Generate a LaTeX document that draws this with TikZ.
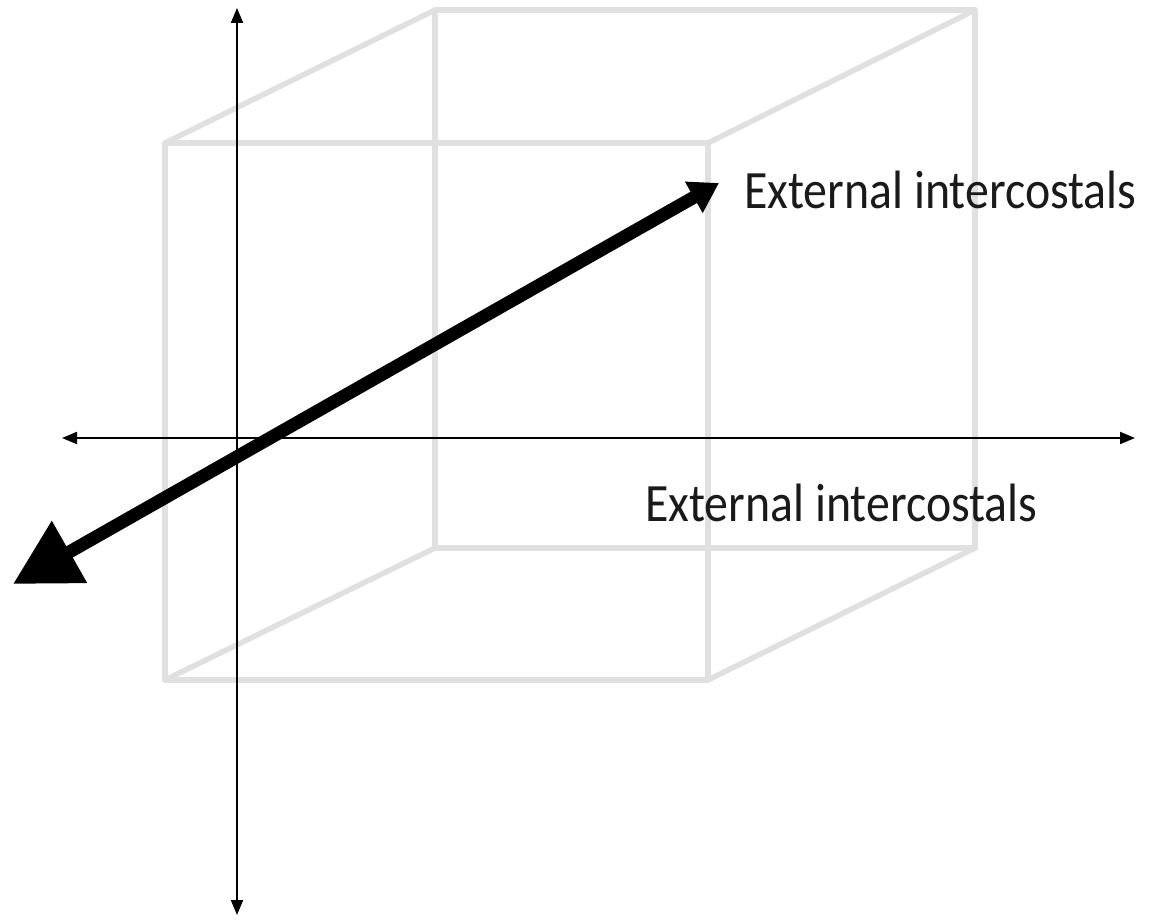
\documentclass[tikz,border=0pt]{standalone}
\usepackage{fontspec}
\setmainfont{Carlito}
\usepackage{graphicx}
\usepackage{tikz}
\usetikzlibrary{arrows.meta}

\tikzset{
  cubeline/.style={line width=5.5pt, color=cubegray, line join=round, line cap=round},
  axis/.style={line width=2pt, {Triangle[length=15pt,width=12pt]}-{Triangle[length=15pt,width=12pt]}},
  label/.style={anchor=base west, inner sep=0pt, text=textgray, font=\fontsize{54}{60}\selectfont}
}
\definecolor{cubegray}{HTML}{E0E0E0}
\definecolor{textgray}{HTML}{1A1A1A}
\newcommand{\narrow}[1]{\scalebox{0.886}[1]{#1}}

\begin{document}
\begin{tikzpicture}[x=1pt,y=-1pt]
\useasboundingbox (0,0) rectangle (1151,920);
% front face
\coordinate (F1) at (165,143);
\coordinate (F2) at (708,143);
\coordinate (F3) at (708,680);
\coordinate (F4) at (165,680);
% back face
\coordinate (B1) at (435,10);
\coordinate (B2) at (975,10);
\coordinate (B3) at (975,548);
\coordinate (B4) at (435,548);
\draw[cubeline] (B1) -- (B2) -- (B3) -- (B4) -- cycle;
\draw[cubeline] (F1) -- (F2) -- (F3) -- (F4) -- cycle;
\draw[cubeline] (F1) -- (B1);
\draw[cubeline] (F2) -- (B2);
\draw[cubeline] (F3) -- (B3);
\draw[cubeline] (F4) -- (B4);
% thick arrow
\coordinate (P) at (719,183);
\coordinate (Q) at (13,584);
\draw[line width=13pt, {Triangle[length=65pt,width=68pt]}-{Triangle[length=29pt,width=34pt]}] (Q) -- (P);
% axes
\coordinate (N) at (237,8);
\coordinate (S) at (237,915);
\coordinate (W) at (62,438);
\coordinate (E) at (1135,438);
\draw[axis] (W) -- (E);
\draw[axis] (S) -- (N);
\node[label] (upper) at (744,208) {\narrow{External intercostals}};
\node[label] (lower) at (645,521) {\narrow{External intercostals}};
\end{tikzpicture}
\end{document}
